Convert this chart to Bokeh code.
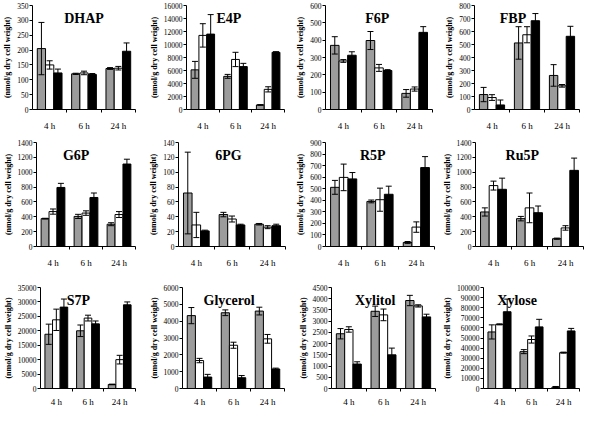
from bokeh.plotting import figure
from bokeh.layouts import column, row
from bokeh.models import (Range1d, FixedTicker, ColumnDataSource, Whisker,
                          TeeHead, Label, NumeralTickFormatter)
from bokeh.embed import file_html
from bokeh.resources import INLINE

times = ["4 h", "6 h", "24 h"]
y_label = "(nmol/g dry cell weight)"

# each list: values at [4 h, 6 h, 24 h]; series: grey, white, black
DHAP_grey = [205, 120, 138];    DHAP_grey_sd = [88, 2, 3]
DHAP_white = [150, 123, 139];   DHAP_white_sd = [14, 6, 6]
DHAP_black = [123, 118, 196];   DHAP_black_sd = [13, 3, 28]

E4P_grey = [6100, 5100, 700];     E4P_grey_sd = [1300, 300, 50]
E4P_white = [11400, 7700, 3100];  E4P_white_sd = [1800, 1100, 400]
E4P_black = [11600, 6600, 8800];  E4P_black_sd = [3000, 500, 100]

F6P_grey = [370, 398, 93];    F6P_grey_sd = [50, 52, 22]
F6P_white = [280, 240, 118];  F6P_white_sd = [8, 20, 12]
F6P_black = [313, 225, 445];  F6P_black_sd = [20, 5, 33]

FBP_grey = [115, 512, 262];   FBP_grey_sd = [55, 125, 83]
FBP_white = [92, 575, 182];   FBP_white_sd = [22, 62, 10]
FBP_black = [35, 683, 563];   FBP_black_sd = [38, 55, 77]

G6P_grey = [375, 405, 300];    G6P_grey_sd = [5, 28, 20]
G6P_white = [470, 450, 430];   G6P_white_sd = [35, 30, 40]
G6P_black = [795, 660, 1110];  G6P_black_sd = [55, 60, 65]

PG6_grey = [72, 43, 30];   PG6_grey_sd = [55, 3, 1]
PG6_white = [29, 37, 26];  PG6_white_sd = [17, 4, 2]
PG6_black = [21, 29, 28];  PG6_black_sd = [1, 1, 2]

R5P_grey = [512, 390, 35];    R5P_grey_sd = [60, 12, 8]
R5P_white = [598, 405, 168];  R5P_white_sd = [115, 100, 45]
R5P_black = [585, 452, 683];  R5P_black_sd = [55, 70, 95]

Ru5P_grey = [465, 375, 105];    Ru5P_grey_sd = [55, 30, 8]
Ru5P_white = [820, 520, 250];   Ru5P_white_sd = [60, 200, 30]
Ru5P_black = [770, 455, 1025];  Ru5P_black_sd = [150, 90, 165]

S7P_grey = [18800, 20000, 1400];   S7P_grey_sd = [3500, 2000, 100]
S7P_white = [23800, 24400, 10000]; S7P_white_sd = [3700, 1000, 1500]
S7P_black = [28200, 22400, 29000]; S7P_black_sd = [2800, 1000, 1000]

Gly_grey = [4330, 4500, 4600];   Gly_grey_sd = [480, 170, 230]
Gly_white = [1660, 2570, 2950];  Gly_white_sd = [130, 180, 260]
Gly_black = [680, 640, 1160];    Gly_black_sd = [160, 130, 50]

Xyl_grey = [2440, 3440, 3920];   Xyl_grey_sd = [230, 230, 230]
Xyl_white = [2630, 3280, 3680];  Xyl_white_sd = [120, 260, 50]
Xyl_black = [1090, 1500, 3190];  Xyl_black_sd = [100, 300, 120]

Xyo_grey = [56000, 36500, 1500];   Xyo_grey_sd = [7000, 2000, 500]
Xyo_white = [63500, 48500, 35500]; Xyo_white_sd = [500, 3500, 500]
Xyo_black = [76000, 61000, 57000]; Xyo_black_sd = [12500, 7500, 2500]

colors = ["#9c9c9c", "#ffffff", "#000000"]
offsets = [-0.24, 0.0, 0.24]
bar_w = 0.24

# name, series, errors, y max, y step, border left, border right, title x
panels = [
    [("DHAP", [DHAP_grey, DHAP_white, DHAP_black], [DHAP_grey_sd, DHAP_white_sd, DHAP_black_sd], 350, 50, 29, 11, 1.5),
     ("E4P", [E4P_grey, E4P_white, E4P_black], [E4P_grey_sd, E4P_white_sd, E4P_black_sd], 16000, 2000, 38, 8, 1.3),
     ("F6P", [F6P_grey, F6P_white, F6P_black], [F6P_grey_sd, F6P_white_sd, F6P_black_sd], 600, 100, 33, 6, 1.45),
     ("FBP", [FBP_grey, FBP_white, FBP_black], [FBP_grey_sd, FBP_white_sd, FBP_black_sd], 800, 100, 36, 5, 1.1)],
    [("G6P", [G6P_grey, G6P_white, G6P_black], [G6P_grey_sd, G6P_white_sd, G6P_black_sd], 1400, 200, 33, 11, 1.2),
     ("6PG", [PG6_grey, PG6_white, PG6_black], [PG6_grey_sd, PG6_white_sd, PG6_black_sd], 140, 20, 28, 7, 1.4),
     ("R5P", [R5P_grey, R5P_white, R5P_black], [R5P_grey_sd, R5P_white_sd, R5P_black_sd], 900, 100, 33, 4, 1.3),
     ("Ru5P", [Ru5P_grey, Ru5P_white, Ru5P_black], [Ru5P_grey_sd, Ru5P_white_sd, Ru5P_black_sd], 1400, 200, 37, 1, 1.3)],
    [("S7P", [S7P_grey, S7P_white, S7P_black], [S7P_grey_sd, S7P_white_sd, S7P_black_sd], 35000, 5000, 35, 11, 1.2),
     ("Glycerol", [Gly_grey, Gly_white, Gly_black], [Gly_grey_sd, Gly_white_sd, Gly_black_sd], 6000, 1000, 35, 8, 1.37),
     ("Xylitol", [Xyl_grey, Xyl_white, Xyl_black], [Xyl_grey_sd, Xyl_white_sd, Xyl_black_sd], 4500, 500, 39, 3, 1.26),
     ("Xylose", [Xyo_grey, Xyo_white, Xyo_black], [Xyo_grey_sd, Xyo_white_sd, Xyo_black_sd], 100000, 10000, 45, 5, 1.05)],
]

row_heights = [137, 137, 135]
row_top = [5, 5, 13]
row_bottom = [28, 28, 18]
row_standoff = [8, 8, 5]
FONT = "Liberation Serif"


def make_panel(spec, h, bt, bb, so):
    name, series, errs, ymax, step, bl, br, tx = spec
    p = figure(width=146, height=h, output_backend="svg", toolbar_location=None,
               title=None, x_range=Range1d(0, 3), y_range=Range1d(0, ymax),
               min_border_left=bl, min_border_right=br, min_border_top=bt,
               min_border_bottom=bb)
    p.outline_line_color = None
    p.xgrid.visible = False
    p.ygrid.visible = False
    p.background_fill_color = "white"
    p.border_fill_color = "white"
    centers = [i + 0.5 for i in range(len(times))]
    for k in range(3):
        xs = [c + offsets[k] for c in centers]
        vals = series[k]
        sd = errs[k]
        src = ColumnDataSource(dict(x=xs, top=vals,
                                    up=[v + e for v, e in zip(vals, sd)],
                                    lo=[v - e for v, e in zip(vals, sd)]))
        p.vbar(x="x", top="top", width=bar_w, source=src, fill_color=colors[k],
               line_color="black", line_width=1)
        w = Whisker(base="x", upper="up", lower="lo", source=src,
                    line_color="black", line_width=1, level="overlay",
                    upper_head=TeeHead(size=6, line_color="black", line_width=1),
                    lower_head=TeeHead(size=6, line_color="black", line_width=1))
        p.add_layout(w)
    # axes
    xa = p.xaxis[0]
    xa.ticker = FixedTicker(ticks=centers, minor_ticks=[1, 2, 3])
    xa.major_label_overrides = {c: t for c, t in zip(centers, times)}
    xa.major_tick_out = 0
    xa.major_tick_in = 0
    xa.minor_tick_out = 3
    xa.minor_tick_in = 0
    xa.major_label_text_font = FONT
    xa.major_label_text_font_size = "9px"
    xa.major_label_text_font_style = "normal"
    xa.major_label_text_color = "black"
    xa.major_label_standoff = so
    xa.axis_line_color = "black"
    xa.minor_tick_line_color = "black"

    ya = p.yaxis[0]
    ya.ticker = FixedTicker(ticks=list(range(0, ymax + 1, step)), minor_ticks=[])
    ya.formatter = NumeralTickFormatter(format="0")
    ya.major_tick_out = 3
    ya.major_tick_in = 0
    ya.minor_tick_out = 0
    ya.minor_tick_in = 0
    ya.major_label_text_font = FONT
    ya.major_label_text_font_size = "7.5px"
    ya.major_label_text_color = "black"
    ya.major_label_standoff = 1
    ya.axis_label = y_label
    ya.axis_label_text_font = FONT
    ya.axis_label_text_font_size = "8px"
    ya.axis_label_text_font_style = "bold"
    ya.axis_label_text_color = "black"
    ya.axis_label_standoff = 2
    ya.axis_line_color = "black"
    ya.major_tick_line_color = "black"

    lab = Label(x=tx, y=ymax, text=name, text_font=FONT, text_font_size="14px",
                text_font_style="bold", text_color="black", text_align="center",
                text_baseline="alphabetic", y_offset=-13)
    p.add_layout(lab)
    return p


rows = []
for r, specs in enumerate(panels):
    figs = [make_panel(s, row_heights[r], row_top[r], row_bottom[r], row_standoff[r])
            for s in specs]
    rows.append(row(*figs))

layout = column(*rows)
open("out.html", "w").write(file_html(layout, INLINE))
